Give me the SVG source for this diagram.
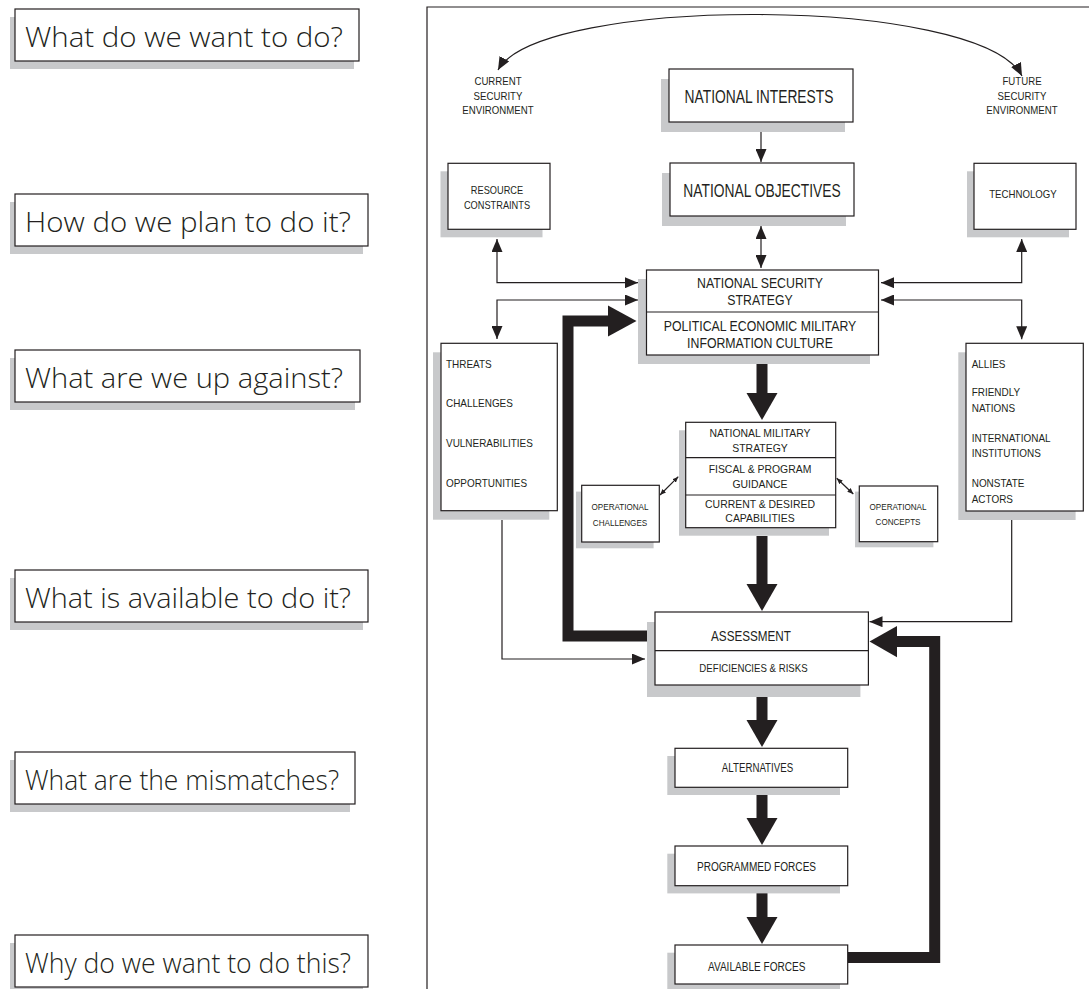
<svg xmlns="http://www.w3.org/2000/svg" width="1089" height="989" viewBox="0 0 1089 989">
<style>
.bg{fill:#ffffff}
.box{fill:#ffffff;stroke:#231f20;stroke-width:1.2}
.sh{fill:#c8c9cb}
.q{font-family:"Open Sans","Liberation Sans",sans-serif;font-size:28px;font-weight:300;fill:#231f20}
.t{font-family:"Liberation Sans",Arial,sans-serif;fill:#231f20}
.thin{fill:none;stroke:#231f20;stroke-width:1.2}
.thick{fill:none;stroke:#231f20;stroke-width:11;stroke-linejoin:miter}
.head{fill:#231f20}
.frame{fill:none;stroke:#231f20;stroke-width:1.2}
</style>
<defs>
<marker id="ah" viewBox="0 0 13 11" refX="13" refY="5.5" markerWidth="13" markerHeight="11" markerUnits="userSpaceOnUse" orient="auto-start-reverse"><path d="M0,0 L13,5.5 L0,11 z" fill="#231f20"/></marker>
<marker id="as" viewBox="0 0 6 5" refX="6" refY="2.5" markerWidth="6" markerHeight="5" markerUnits="userSpaceOnUse" orient="auto-start-reverse"><path d="M0,0 L6,2.5 L0,5 z" fill="#231f20"/></marker>
</defs>
<rect class="bg" x="0" y="0" width="1089" height="989"/>

<!-- Questions -->
<g id="q1"><rect class="sh" x="10" y="17" width="344" height="52"/><rect class="box" x="15" y="9" width="344" height="52"/><text class="q" x="25" y="47" textLength="318" lengthAdjust="spacingAndGlyphs">What do we want to do?</text></g>
<g id="q2"><rect class="sh" x="10" y="202" width="353" height="52"/><rect class="box" x="15" y="194" width="353" height="52"/><text class="q" x="25" y="232" textLength="326" lengthAdjust="spacingAndGlyphs">How do we plan to do it?</text></g>
<g id="q3"><rect class="sh" x="10" y="358" width="345" height="52"/><rect class="box" x="15" y="350" width="345" height="52"/><text class="q" x="25" y="388" textLength="318" lengthAdjust="spacingAndGlyphs">What are we up against?</text></g>
<g id="q4"><rect class="sh" x="10" y="578" width="353" height="52"/><rect class="box" x="15" y="570" width="353" height="52"/><text class="q" x="25" y="608" textLength="326" lengthAdjust="spacingAndGlyphs">What is available to do it?</text></g>
<g id="q5"><rect class="sh" x="10" y="760" width="340" height="52"/><rect class="box" x="15" y="752" width="340" height="52"/><text class="q" x="25" y="790" textLength="314" lengthAdjust="spacingAndGlyphs">What are the mismatches?</text></g>
<g id="q6"><rect class="sh" x="10" y="943" width="353" height="52"/><rect class="box" x="15" y="935" width="353" height="52"/><text class="q" x="25" y="973" textLength="326" lengthAdjust="spacingAndGlyphs">Why do we want to do this?</text></g>

<!-- Frame -->
<path class="frame" d="M427,989 V7 H1095"/>

<!-- Connectors -->
<g id="connectors">
<path class="thin" d="M498,70 C540,-5 980,-5 1022,76" marker-start="url(#ah)" marker-end="url(#ah)"/>
<path class="thin" d="M761,132 V162" marker-end="url(#ah)"/>
<path class="thin" d="M761,226 V268" marker-start="url(#ah)" marker-end="url(#ah)"/>
<path class="thin" d="M497,239 V282.7 H638" marker-start="url(#ah)" marker-end="url(#ah)"/>
<path class="thin" d="M497,339 V300 H638" marker-start="url(#ah)" marker-end="url(#ah)"/>
<path class="thin" d="M1021.7,239 V282.7 H881" marker-start="url(#ah)" marker-end="url(#ah)"/>
<path class="thin" d="M1021.7,339.3 V300 H881" marker-start="url(#ah)" marker-end="url(#ah)"/>
<path class="thin" d="M502,520 V659 H645" marker-end="url(#ah)"/>
<path class="thin" d="M1011.7,519 V621.7 H869.5" marker-end="url(#ah)"/>
<path class="thin" d="M660,495 L678.3,476.7" marker-start="url(#as)" marker-end="url(#as)"/>
<path class="thin" d="M836.7,478.3 L853.3,494" marker-start="url(#as)" marker-end="url(#as)"/>

<!-- thick vertical arrows -->
<rect class="head" x="756.5" y="364" width="11" height="31"/><polygon class="head" points="746.5,393 777.5,393 762,420"/>
<rect class="head" x="756.5" y="536" width="11" height="50"/><polygon class="head" points="746.5,584 777.5,584 762,611"/>
<rect class="head" x="756.5" y="697" width="11" height="25"/><polygon class="head" points="746.5,720 777.5,720 762,747"/>
<rect class="head" x="756.5" y="795" width="11" height="25"/><polygon class="head" points="746.5,818 777.5,818 762,845"/>
<rect class="head" x="756.5" y="893" width="11" height="26"/><polygon class="head" points="746.5,917 777.5,917 762,944"/>

<!-- feedback loops -->
<path class="thick" d="M647,636 H568 V321 H610"/>
<polygon class="head" points="608,305.5 636.5,321 608,336.5"/>
<path class="thick" d="M848,957.5 H934.7 V641.6 H895"/>
<polygon class="head" points="897,626 869.5,641.6 897,657.2"/>
</g>

<!-- Labels -->
<g id="current-env"><text class="t" font-size="10.5" text-anchor="middle" transform="translate(498 0) scale(0.92 1)"><tspan x="0" y="85.3">CURRENT</tspan><tspan x="0" y="100">SECURITY</tspan><tspan x="0" y="114.3">ENVIRONMENT</tspan></text></g>
<g id="future-env"><text class="t" font-size="10.5" text-anchor="middle" transform="translate(1022 0) scale(0.92 1)"><tspan x="0" y="85.3">FUTURE</tspan><tspan x="0" y="100">SECURITY</tspan><tspan x="0" y="114.3">ENVIRONMENT</tspan></text></g>

<!-- Nodes -->
<g id="national-interests"><rect class="sh" x="661" y="79" width="184" height="53"/><rect class="box" x="669" y="69" width="184" height="53"/><text class="t" font-size="17.5" text-anchor="middle" transform="translate(759 103.3) scale(0.79 1)">NATIONAL INTERESTS</text></g>

<g id="national-objectives"><rect class="sh" x="662" y="173" width="184" height="53"/><rect class="box" x="670" y="163" width="184" height="53"/><text class="t" font-size="17.5" text-anchor="middle" transform="translate(762 197) scale(0.79 1)">NATIONAL OBJECTIVES</text></g>

<g id="resource-constraints"><rect class="sh" x="440.5" y="171.3" width="102" height="66"/><rect class="box" x="448" y="163.3" width="102" height="66"/><text class="t" font-size="10.5" text-anchor="middle" transform="translate(497 0) scale(0.88 1)"><tspan x="0" y="194.3">RESOURCE</tspan><tspan x="0" y="209">CONSTRAINTS</tspan></text></g>

<g id="technology"><rect class="sh" x="967" y="171.3" width="102" height="66"/><rect class="box" x="974" y="163.3" width="102" height="66"/><text class="t" font-size="10.5" text-anchor="middle" transform="translate(1023 198.3) scale(0.92 1)">TECHNOLOGY</text></g>

<g id="nss"><rect class="sh" x="638" y="279" width="232" height="85"/><rect class="box" x="646.5" y="270" width="232" height="85"/><line class="thin" x1="646.5" y1="312" x2="878.5" y2="312"/><text class="t" font-size="14" text-anchor="middle" transform="translate(760 0) scale(0.88 1)"><tspan x="0" y="288.3">NATIONAL SECURITY</tspan><tspan x="0" y="305">STRATEGY</tspan><tspan x="0" y="331">POLITICAL ECONOMIC MILITARY</tspan><tspan x="0" y="347.7">INFORMATION CULTURE</tspan></text></g>

<g id="threats"><rect class="sh" x="433" y="352.3" width="116.3" height="167.4"/><rect class="box" x="441" y="343.3" width="116.3" height="167.4"/><text class="t" font-size="10.7" transform="translate(446 0) scale(0.93 1)"><tspan x="0" y="367.7">THREATS</tspan><tspan x="0" y="407.3">CHALLENGES</tspan><tspan x="0" y="447.3">VULNERABILITIES</tspan><tspan x="0" y="487.3">OPPORTUNITIES</tspan></text></g>

<g id="allies"><rect class="sh" x="958.3" y="352.3" width="117.3" height="167.7"/><rect class="box" x="966" y="343.3" width="117.3" height="167.7"/><text class="t" font-size="10.7" transform="translate(971.7 0) scale(0.93 1)"><tspan x="0" y="367.7">ALLIES</tspan><tspan x="0" y="396">FRIENDLY</tspan><tspan x="0" y="412.3">NATIONS</tspan><tspan x="0" y="441.7">INTERNATIONAL</tspan><tspan x="0" y="457.3">INSTITUTIONS</tspan><tspan x="0" y="486.7">NONSTATE</tspan><tspan x="0" y="502.7">ACTORS</tspan></text></g>

<g id="nms"><rect class="sh" x="679" y="430.3" width="150" height="105.4"/><rect class="box" x="685.7" y="422.3" width="150" height="105.4"/><line class="thin" x1="685.7" y1="457.7" x2="835.7" y2="457.7"/><line class="thin" x1="685.7" y1="495" x2="835.7" y2="495"/><text class="t" font-size="11.6" text-anchor="middle" transform="translate(760 0) scale(0.9 1)"><tspan x="0" y="437.3">NATIONAL MILITARY</tspan><tspan x="0" y="452.3">STRATEGY</tspan><tspan x="0" y="473.3">FISCAL &amp; PROGRAM</tspan><tspan x="0" y="487.7">GUIDANCE</tspan><tspan x="0" y="507.7">CURRENT &amp; DESIRED</tspan><tspan x="0" y="522.3">CAPABILITIES</tspan></text></g>

<g id="operational-challenges"><rect class="sh" x="576" y="491.6" width="77.6" height="56.7"/><rect class="box" x="581.7" y="485.3" width="77.6" height="56.7"/><text class="t" font-size="9.3" text-anchor="middle" transform="translate(620 0) scale(0.87 1)"><tspan x="0" y="510">OPERATIONAL</tspan><tspan x="0" y="526">CHALLENGES</tspan></text></g>

<g id="operational-concepts"><rect class="sh" x="855" y="491.6" width="78.4" height="55.7"/><rect class="box" x="859.3" y="486" width="78.4" height="55.7"/><text class="t" font-size="9.3" text-anchor="middle" transform="translate(898 0) scale(0.87 1)"><tspan x="0" y="510">OPERATIONAL</tspan><tspan x="0" y="525">CONCEPTS</tspan></text></g>

<g id="assessment"><rect class="sh" x="647" y="622" width="213.4" height="75"/><rect class="box" x="655" y="612" width="213.4" height="73"/><line class="thin" x1="655" y1="650.7" x2="868.4" y2="650.7"/><text class="t" font-size="15" text-anchor="middle" transform="translate(751 641) scale(0.78 1)">ASSESSMENT</text><text class="t" font-size="10.5" text-anchor="middle" transform="translate(753.5 671.7) scale(0.92 1)">DEFICIENCIES &amp; RISKS</text></g>

<g id="alternatives"><rect class="sh" x="667.3" y="756" width="172.7" height="39"/><rect class="box" x="675" y="748.3" width="172.7" height="39"/><text class="t" font-size="12.6" text-anchor="middle" transform="translate(757.5 772.3) scale(0.77 1)">ALTERNATIVES</text></g>

<g id="programmed-forces"><rect class="sh" x="667.3" y="853.7" width="172.7" height="39.7"/><rect class="box" x="675" y="846" width="172.7" height="39.7"/><text class="t" font-size="12.6" text-anchor="middle" transform="translate(756.5 871) scale(0.8 1)">PROGRAMMED FORCES</text></g>

<g id="available-forces"><rect class="sh" x="667.3" y="952.7" width="172.7" height="39"/><rect class="box" x="675" y="945" width="172.7" height="39"/><text class="t" font-size="12.6" text-anchor="middle" transform="translate(756.7 970.7) scale(0.8 1)">AVAILABLE FORCES</text></g>
</svg>
